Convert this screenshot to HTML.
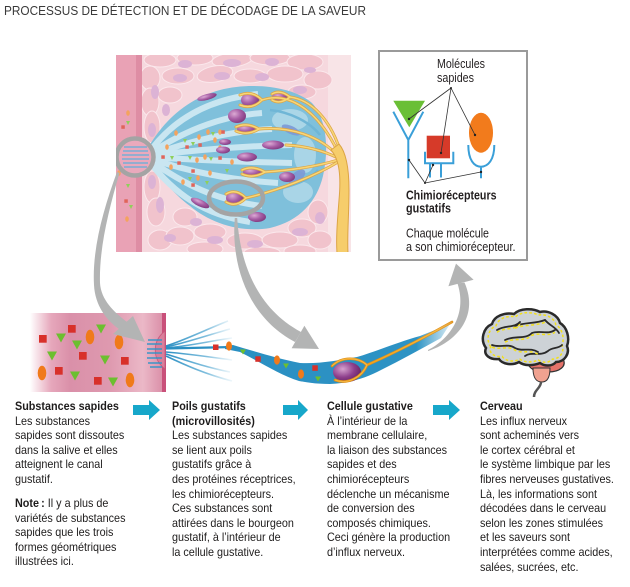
<!DOCTYPE html>
<html><head><meta charset="utf-8">
<style>
html,body{margin:0;padding:0;background:#fff;}
body{width:630px;height:587px;position:relative;overflow:hidden;font-family:"Liberation Sans",Arial,sans-serif;}
svg{position:absolute;left:0;top:0;}
.col{position:absolute;top:399px;font-size:12px;line-height:14.6px;color:#1e1c1c;transform:scaleX(0.9);transform-origin:0 0;white-space:nowrap;}
.col b{font-weight:bold;}
.col p{margin:0;}
.col p+p{margin-top:9.4px;}
</style></head><body>
<svg width="630" height="587" viewBox="0 0 630 587" xmlns="http://www.w3.org/2000/svg">
<defs>
<clipPath id="tc"><rect x="116" y="55" width="235" height="197"/></clipPath>
<radialGradient id="pu" cx="0.35" cy="0.35" r="0.75"><stop offset="0" stop-color="#dcaad4"/><stop offset="0.5" stop-color="#a75ea5"/><stop offset="1" stop-color="#7a3478"/></radialGradient>
<radialGradient id="pu2" cx="0.35" cy="0.35" r="0.75"><stop offset="0" stop-color="#d6a2cf"/><stop offset="0.55" stop-color="#8e3f8c"/><stop offset="1" stop-color="#5e1f5c"/></radialGradient>
<linearGradient id="pk" x1="30" x2="163" y1="0" y2="0" gradientUnits="userSpaceOnUse">
<stop offset="0" stop-color="#ffffff"/><stop offset="0.16" stop-color="#e6a7bb"/><stop offset="0.3" stop-color="#da90a9"/><stop offset="0.6" stop-color="#de99af"/><stop offset="0.85" stop-color="#ebb8c7"/><stop offset="1" stop-color="#da8fa8"/></linearGradient>
<linearGradient id="mv" x1="166" x2="234" y1="0" y2="0" gradientUnits="userSpaceOnUse">
<stop offset="0" stop-color="#2b8fc3"/><stop offset="0.6" stop-color="#4aa3cf" stop-opacity="0.7"/><stop offset="1" stop-color="#8cc6e2" stop-opacity="0.1"/></linearGradient>
<linearGradient id="cellg" x1="225" x2="450" y1="0" y2="0" gradientUnits="userSpaceOnUse">
<stop offset="0" stop-color="#2a8fc2"/><stop offset="0.85" stop-color="#2d93c4"/><stop offset="1" stop-color="#2d93c4" stop-opacity="0.2"/></linearGradient>
<linearGradient id="nerve" x1="367" x2="452" y1="0" y2="0" gradientUnits="userSpaceOnUse">
<stop offset="0" stop-color="#f2a21c"/><stop offset="0.8" stop-color="#f5b640"/><stop offset="1" stop-color="#f8d89a" stop-opacity="0.2"/></linearGradient>
</defs>

<text x="4" y="15.2" font-family="Liberation Sans, Arial, sans-serif" font-size="12.5" fill="#3a3a3a" textLength="362" lengthAdjust="spacingAndGlyphs">PROCESSUS DE DÉTECTION ET DE DÉCODAGE DE LA SAVEUR</text>

<g clip-path="url(#tc)">
<rect x="116" y="55" width="235" height="197" fill="#f6d8de"/>
<rect x="328" y="55" width="23" height="197" fill="#f8e4e7"/>
<g fill="#f1c3cc" stroke="#fbe8ec" stroke-width="1">
<ellipse cx="160" cy="60" rx="16" ry="7"/>
<ellipse cx="195" cy="58" rx="18" ry="7"/>
<ellipse cx="232" cy="60" rx="20" ry="7" transform="rotate(-5 232 60)"/>
<ellipse cx="270" cy="58" rx="20" ry="7"/>
<ellipse cx="305" cy="62" rx="18" ry="8"/>
<ellipse cx="150" cy="78" rx="10" ry="12"/>
<ellipse cx="178" cy="76" rx="16" ry="8"/>
<ellipse cx="215" cy="74" rx="18" ry="8" transform="rotate(-10 215 74)"/>
<ellipse cx="250" cy="76" rx="16" ry="7"/>
<ellipse cx="285" cy="74" rx="18" ry="8"/>
<ellipse cx="318" cy="80" rx="14" ry="9"/>
<ellipse cx="150" cy="102" rx="9" ry="14"/>
<ellipse cx="170" cy="95" rx="12" ry="8"/>
<ellipse cx="302" cy="92" rx="14" ry="7"/>
<ellipse cx="152" cy="127" rx="8" ry="16"/>
<ellipse cx="152" cy="187" rx="8" ry="16"/>
<ellipse cx="156" cy="212" rx="9" ry="14"/>
<ellipse cx="160" cy="240" rx="12" ry="10"/>
<ellipse cx="185" cy="217" rx="12" ry="9"/>
<ellipse cx="180" cy="236" rx="14" ry="9"/>
<ellipse cx="210" cy="232" rx="16" ry="8"/>
<ellipse cx="205" cy="249" rx="18" ry="7"/>
<ellipse cx="245" cy="241" rx="18" ry="8"/>
<ellipse cx="280" cy="240" rx="18" ry="8"/>
<ellipse cx="302" cy="228" rx="14" ry="9"/>
<ellipse cx="318" cy="212" rx="10" ry="12"/>
<ellipse cx="320" cy="240" rx="12" ry="9"/>
<ellipse cx="300" cy="251" rx="16" ry="6"/>
<ellipse cx="262" cy="252" rx="18" ry="5"/>
</g>
<g fill="#dcb3d5">
<ellipse cx="185" cy="64" rx="7" ry="4"/>
<ellipse cx="232" cy="63" rx="9" ry="4"/>
<ellipse cx="272" cy="62" rx="7" ry="4"/>
<ellipse cx="180" cy="78" rx="7" ry="4"/>
<ellipse cx="222" cy="76" rx="8" ry="4"/>
<ellipse cx="262" cy="77" rx="7" ry="4"/>
<ellipse cx="155" cy="92" rx="4" ry="7"/>
<ellipse cx="152" cy="130" rx="4" ry="7"/>
<ellipse cx="152" cy="182" rx="4" ry="7"/>
<ellipse cx="160" cy="205" rx="4" ry="8"/>
<ellipse cx="300" cy="90" rx="7" ry="4"/>
<ellipse cx="196" cy="222" rx="6" ry="4"/>
<ellipse cx="215" cy="240" rx="8" ry="4"/>
<ellipse cx="255" cy="244" rx="8" ry="4"/>
<ellipse cx="300" cy="232" rx="8" ry="4"/>
<ellipse cx="320" cy="218" rx="5" ry="6"/>
<ellipse cx="170" cy="238" rx="6" ry="4"/>
<ellipse cx="166" cy="110" rx="4" ry="6"/>
<ellipse cx="310" cy="70" rx="6" ry="3"/>
</g>
<rect x="116" y="55" width="20" height="197" fill="#e9a2b5"/>
<rect x="136" y="55" width="6" height="197" fill="#de8da4"/>
<g fill="#f4a35e"><ellipse cx="128" cy="113" rx="1.8" ry="2.8"/><ellipse cx="119" cy="173" rx="1.8" ry="2.8"/><ellipse cx="127" cy="219" rx="1.8" ry="2.8"/></g>
<g fill="#8fcf5a"><path d="M126,121 L130,121 L128,125Z"/><path d="M126,184 L130,184 L128,188Z"/><path d="M129,205 L133,205 L131,209Z"/></g>
<g fill="#e0645a"><rect x="121.3" y="125.3" width="3.5" height="3.5"/><rect x="124.3" y="199.3" width="3.5" height="3.5"/></g>

<path d="M146,152 C160,124 186,99 220,90 C252,82 292,86 312,103 C327,119 329,150 323,176 C317,201 300,221 270,228 C240,233 210,223 190,206 C172,193 157,172 146,160 Z" fill="#7fc0db"/>
<g fill="none" stroke="#c9e6f1" stroke-width="6">
<path d="M148,154 C172,120 208,99 258,94"/>
<path d="M148,155 C183,131 220,116 262,113"/>
<path d="M148,156 C190,141 230,131 272,129"/>
<path d="M148,156 C195,150 240,146 292,145"/>
<path d="M148,157 C195,160 240,162 292,163"/>
<path d="M148,158 C190,172 230,180 278,183"/>
<path d="M148,159 C185,185 215,200 262,206"/>
<path d="M148,160 C175,195 205,215 250,222"/>
</g>
<g fill="#c6e4ef" opacity="0.6">
<ellipse cx="290" cy="120" rx="18" ry="11"/>
<ellipse cx="298" cy="192" rx="15" ry="11"/>
<ellipse cx="305" cy="155" rx="11" ry="18"/>
</g>
<g fill="none" stroke="#6fb6d6" stroke-width="2.5">
<path d="M270,110 C290,112 310,122 320,135"/>
<path d="M275,190 C295,185 310,180 318,170"/>
</g>
<g fill="#7d9ad6" opacity="0.9">
<ellipse cx="291" cy="130" rx="10" ry="4" transform="rotate(25 291 130)"/>
<ellipse cx="297" cy="177" rx="10" ry="5" transform="rotate(-40 297 177)"/>
</g>
<g fill="#f4a35e">
<ellipse cx="176" cy="133" rx="1.8" ry="2.8"/><ellipse cx="199" cy="137" rx="1.8" ry="2.8"/><ellipse cx="208" cy="132" rx="1.8" ry="2.8"/><ellipse cx="215" cy="140" rx="1.8" ry="2.8"/><ellipse cx="220" cy="132" rx="1.8" ry="2.8"/><ellipse cx="167" cy="147" rx="1.8" ry="2.8"/><ellipse cx="197" cy="160" rx="1.8" ry="2.8"/><ellipse cx="205" cy="157" rx="1.8" ry="2.8"/><ellipse cx="210" cy="173" rx="1.8" ry="2.8"/><ellipse cx="171" cy="167" rx="1.8" ry="2.8"/><ellipse cx="183" cy="182" rx="1.8" ry="2.8"/><ellipse cx="198" cy="178" rx="1.8" ry="2.8"/><ellipse cx="220" cy="148" rx="1.8" ry="2.8"/><ellipse cx="232" cy="162" rx="1.8" ry="2.8"/>
</g>
<g fill="#8fcf5a">
<path d="M183,139h4l-2,4z"/><path d="M191,142h4l-2,4z"/><path d="M211,132h4l-2,4z"/><path d="M148,155h4l-2,4z"/><path d="M170,156h4l-2,4z"/><path d="M188,156h4l-2,4z"/><path d="M209,157h4l-2,4z"/><path d="M188,177h4l-2,4z"/><path d="M205,181h4l-2,4z"/><path d="M225,169h4l-2,4z"/>
</g>
<g fill="#e0645a">
<rect x="185.3" y="145.3" width="3.5" height="3.5"/><rect x="198.3" y="143.3" width="3.5" height="3.5"/><rect x="221.3" y="130.3" width="3.5" height="3.5"/><rect x="177.3" y="161.3" width="3.5" height="3.5"/><rect x="191.3" y="169.3" width="3.5" height="3.5"/><rect x="218.3" y="156.3" width="3.5" height="3.5"/><rect x="191.3" y="183.3" width="3.5" height="3.5"/><rect x="161.3" y="155.3" width="3.5" height="3.5"/>
</g>
<g fill="url(#pu)">
<ellipse cx="250" cy="100" rx="9" ry="7"/>
<ellipse cx="237" cy="116" rx="9" ry="7"/>
<ellipse cx="247" cy="129" rx="10" ry="4.5"/>
<ellipse cx="273" cy="145" rx="11" ry="4.5"/>
<ellipse cx="225" cy="142" rx="6" ry="3"/>
<ellipse cx="247" cy="157" rx="10" ry="4.5"/>
<ellipse cx="223" cy="150" rx="7" ry="3.5"/>
<ellipse cx="253" cy="172" rx="10" ry="4.5"/>
<ellipse cx="235" cy="198" rx="9" ry="7"/>
<ellipse cx="257" cy="217" rx="9" ry="5"/>
<ellipse cx="200" cy="203" rx="10" ry="3.5" transform="rotate(25 200 203)"/>
<ellipse cx="287" cy="177" rx="8" ry="5"/>
<ellipse cx="207" cy="97" rx="10" ry="3" transform="rotate(-15 207 97)"/>
<ellipse cx="280" cy="97" rx="8" ry="5"/>
</g>
<g fill="none" stroke-linecap="round">
<g stroke="#dca545" stroke-width="3">
<path d="M262,100 C285,92 315,105 338,152"/>
<path d="M259,129 C290,126 320,136 338,156"/>
<path d="M286,145 C305,146 322,150 338,158"/>
<path d="M265,172 C295,170 318,166 338,160"/>
<path d="M246,198 C280,190 315,176 338,162"/>
<path d="M290,97 C312,100 330,120 340,150"/>
<path d="M262,100 Q252,90 240,95 M262,100 Q252,110 240,105"/>
<path d="M259,129 Q247,122 236,127 M259,129 Q247,136 236,131"/>
<path d="M265,172 Q253,165 242,170 M265,172 Q253,179 242,174"/>
<path d="M246,198 Q236,188 226,194 M246,198 Q236,208 226,202"/>
<path d="M290,97 Q280,89 272,94 M290,97 Q280,105 272,100"/>
</g>
<g stroke="#f8d677" stroke-width="1.5">
<path d="M262,100 C285,92 315,105 338,152"/>
<path d="M259,129 C290,126 320,136 338,156"/>
<path d="M286,145 C305,146 322,150 338,158"/>
<path d="M265,172 C295,170 318,166 338,160"/>
<path d="M246,198 C280,190 315,176 338,162"/>
<path d="M290,97 C312,100 330,120 340,150"/>
<path d="M262,100 Q252,90 240,95 M262,100 Q252,110 240,105"/>
<path d="M259,129 Q247,122 236,127 M259,129 Q247,136 236,131"/>
<path d="M265,172 Q253,165 242,170 M265,172 Q253,179 242,174"/>
<path d="M246,198 Q236,188 226,194 M246,198 Q236,208 226,202"/>
<path d="M290,97 Q280,89 272,94 M290,97 Q280,105 272,100"/>
</g>
</g>
<path d="M331,150 C340,160 341,178 339,200 C337,225 336,240 337,253 L348,253 C347,235 349,215 349,190 C349,168 346,152 339,144 Z" fill="#f6cd6b" stroke="#dca545" stroke-width="1"/>
<circle cx="135" cy="157" r="17" fill="#eaa9bc"/>
<g stroke="#5fb0da" stroke-width="1.2">
<line x1="124" y1="147" x2="147" y2="147"/><line x1="123" y1="151" x2="148" y2="151"/><line x1="122" y1="155" x2="149" y2="155"/><line x1="122" y1="159" x2="149" y2="159"/><line x1="123" y1="163" x2="148" y2="163"/><line x1="124" y1="167" x2="147" y2="167"/>
</g>
<circle cx="135" cy="157" r="18.5" fill="none" stroke="#a4a4a4" stroke-width="4.5"/>
<ellipse cx="236" cy="198" rx="27" ry="16.5" fill="none" stroke="#a4a4a4" stroke-width="4.5"/>
</g>

<rect x="379" y="51" width="148" height="209" fill="#fff" stroke="#9a9a9a" stroke-width="2"/>
<g font-family="Liberation Sans, Arial, sans-serif" font-size="12.5" fill="#231f20">
<text x="437" y="68" textLength="48" lengthAdjust="spacingAndGlyphs">Molécules</text>
<text x="437" y="82" textLength="37" lengthAdjust="spacingAndGlyphs">sapides</text>
<text x="406" y="199.5" font-weight="bold" textLength="90.5" lengthAdjust="spacingAndGlyphs">Chimiorécepteurs</text>
<text x="406" y="212.5" font-weight="bold" textLength="45" lengthAdjust="spacingAndGlyphs">gustatifs</text>
<text x="406" y="237.5" textLength="83" lengthAdjust="spacingAndGlyphs">Chaque molécule</text>
<text x="406" y="251" textLength="109.5" lengthAdjust="spacingAndGlyphs">a son chimiorécepteur.</text>
</g>
<polygon points="393.3,100.7 425,100.7 409.3,127.3" fill="#6abf36"/>
<rect x="426.7" y="135.7" width="23.3" height="22.6" fill="#d63a29"/>
<ellipse cx="481" cy="132.7" rx="12" ry="20" fill="#f27b1c"/>
<g fill="none" stroke="#3a9fd8" stroke-width="2">
<path d="M393.3,111.7 L408.3,140 L423.3,111.7 M408.3,140 L408.3,178.3"/>
<path d="M425,151.7 L425,163.3 L453.3,163.3 L453.3,151.7 M430,163.3 L430,177.5 M441,163.3 L441,177.5"/>
<path d="M468.3,145 C468.3,160 474,166.7 481,166.7 C488,166.7 494.3,160 494.3,145 M481,166.7 L481,178.3"/>
</g>
<g stroke="#333" stroke-width="0.8" fill="none">
<path d="M451,88 L409,119 M451,88 L441,153 M451,88 L475,135"/>
<path d="M425,183 L409,160 M425,183 L433,165 M425,183 L481,172"/>
</g>
<g fill="#222"><circle cx="409" cy="119" r="1.2"/><circle cx="441" cy="153" r="1.2"/><circle cx="475" cy="135" r="1.2"/><circle cx="409" cy="160" r="1.2"/><circle cx="433" cy="165" r="1.2"/><circle cx="481" cy="172" r="1.2"/><circle cx="451" cy="88" r="1"/><circle cx="425" cy="183" r="1"/></g>

<rect x="30" y="313" width="133" height="79" fill="url(#pk)"/>
<rect x="162" y="313" width="4" height="79" fill="#c9507a"/>
<path d="M165,331 C152,341 152,359 165,369 Z" fill="#d97f9b" stroke="#c9577c" stroke-width="0.8"/>
<g stroke="#2f95c8" stroke-width="1.4">
<line x1="148" y1="340" x2="162" y2="340"/><line x1="147" y1="344" x2="162" y2="344"/><line x1="147" y1="349" x2="162" y2="349"/><line x1="147" y1="353" x2="162" y2="353"/><line x1="147" y1="358" x2="162" y2="358"/><line x1="148" y1="363" x2="162" y2="363"/><line x1="150" y1="367" x2="162" y2="367"/>
</g>
<g fill="none" stroke="url(#mv)" stroke-width="1.6">
<path d="M166,346 C185,340 205,330 228,321"/>
<path d="M166,347 C185,343 205,336 230,329"/>
<path d="M166,348 C190,346 210,341 232,338"/>
<path d="M166,352 C190,354 210,357 232,360"/>
<path d="M166,354 C185,360 205,367 230,372"/>
<path d="M166,356 C185,365 205,374 232,381"/>
</g>
<path d="M166,348.5 L233,347" stroke="#2a8fc2" stroke-width="2.2"/>
<g fill="#d8302a">
<rect x="39" y="335" width="7.7" height="7.7"/><rect x="68" y="325" width="7.7" height="7.7"/><rect x="79" y="352" width="7.7" height="7.7"/><rect x="55" y="367" width="7.7" height="7.7"/><rect x="121" y="357" width="7.7" height="7.7"/><rect x="94" y="377" width="7.7" height="7.7"/>
</g>
<g fill="#6cbf2f">
<path d="M56,333.5h10l-5,9z"/><path d="M96,324.5h10l-5,9z"/><path d="M72,340.5h10l-5,9z"/><path d="M47,351.5h10l-5,9z"/><path d="M100,355.5h10l-5,9z"/><path d="M70,371.5h10l-5,9z"/><path d="M108,377.5h10l-5,9z"/>
</g>
<g fill="#f07a1a">
<ellipse cx="90" cy="337" rx="4.3" ry="7.3"/><ellipse cx="119" cy="342" rx="4.3" ry="7.3"/><ellipse cx="42" cy="373" rx="4.3" ry="7.3"/><ellipse cx="130" cy="380" rx="4.3" ry="7.3"/>
</g>
<path d="M225,346 L233,345 C250,350 275,358 300,363 C320,364 340,360 357,357 C375,352 395,343 420,336 L450,324 L441,338 C421,349 401,360 381,370 C366,378 350,383 330,384 C315,384 305,382 299,381 C280,375 260,362 240,352 L225,349 Z" fill="url(#cellg)"/>
<ellipse cx="347" cy="372" rx="14" ry="10" fill="url(#pu2)"/>
<g fill="none" stroke="#e08f15" stroke-width="2.6" stroke-linecap="round">
<path d="M452,322 C420,340 392,354 367,365"/>
<path d="M367,365 C358,357 342,356 332,366"/>
<path d="M367,365 C362,377 348,385 335,380"/>
</g>
<g fill="none" stroke="url(#nerve)" stroke-width="1.4" stroke-linecap="round">
<path d="M452,322 C420,340 392,354 367,365"/>
</g>
<g fill="none" stroke="#f5b640" stroke-width="1.2"><path d="M367,365 C358,357 342,356 332,366"/><path d="M367,365 C362,377 348,385 335,380"/></g>
<g fill="#d8302a"><rect x="213" y="344.5" width="5.5" height="5.5"/><rect x="255.3" y="356.3" width="5.5" height="5.5"/><rect x="312.3" y="365.3" width="5.5" height="5.5"/></g>
<g fill="#f07a1a"><ellipse cx="229" cy="346" rx="3" ry="4.6"/><ellipse cx="277" cy="360" rx="3" ry="4.6"/><ellipse cx="301" cy="374" rx="3" ry="4.6"/></g>
<g fill="#6cbf2f"><path d="M240,349.5h6l-3,5z"/><path d="M283,363.5h6l-3,5z"/><path d="M315,376.5h6l-3,5z"/></g>

<g fill="#b3b4b4">
<path d="M117,172 C103,210 92,250 94,285 C95,305 106,320 119,329 L127,322 C114,312 101,300 100,283 C99,250 108,212 119.5,173 Z"/>
<path d="M113,334 L133,316 L145,342 Z"/>
<path d="M234.8,218 C231,262 246,316 295,342 L301,332 C256,308 240,262 237.2,218 Z"/>
<path d="M291.6,348.3 L304.4,325.7 L319,349 Z"/>
<path d="M428,351 C454,343 480,318 464.5,282.5 L457.5,283.5 C468,316 448,340 428,350 Z"/>
<path d="M473.6,279.8 L448.4,286.3 L456,263.6 Z"/>
</g>

<path d="M527,360 C530,355 556,355 563,359 C567,366 560,372 548,372 C538,373 528,370 527,360 Z" fill="#e4726a" stroke="#333" stroke-width="1.2"/>
<path d="M533,368 C533,378 536,382 542,382 C548,382 550,376 550,368 Z" fill="#f0a290" stroke="#333" stroke-width="1"/>
<path d="M541,382 C541,388 534,390 534,397" fill="none" stroke="#555" stroke-width="2.5"/>
<path d="M486,348 C480,340 483,328 492,324 C494,316 505,312 514,314 C520,308 533,308 540,312 C548,310 558,315 560,323 C567,327 570,338 567,346 C570,353 565,362 556,362 C552,367 544,366 540,363 C533,366 524,366 519,362 C512,366 502,364 499,359 C490,360 483,355 486,348 Z" fill="#cdd2d6" stroke="#2a2a2a" stroke-width="2.5"/>
<path d="M486,348 C480,340 483,328 492,324 C494,316 505,312 514,314 C520,308 533,308 540,312 C548,310 558,315 560,323 C567,327 570,338 567,346 C570,353 565,362 556,362 C552,367 544,366 540,363 C533,366 524,366 519,362 C512,366 502,364 499,359 C490,360 483,355 486,348 Z" fill="none" stroke="#f2df1a" stroke-width="1.7" stroke-dasharray="3 2.5" transform="translate(526 338) scale(0.88) translate(-526 -338)"/>
<g fill="none" stroke="#2a2a2a" stroke-width="1.8" stroke-linecap="round">
<path d="M497,330 C505,325 515,328 520,322"/>
<path d="M515,326 C525,322 535,324 545,320"/>
<path d="M505,340 C515,335 525,340 532,333 C540,330 548,335 555,330"/>
<path d="M492,345 C500,348 508,343 515,348 C522,352 530,347 538,352"/>
<path d="M525,356 C532,351 540,357 548,351 C552,347 558,349 562,345"/>
<path d="M545,320 C550,326 556,327 559,333"/>
</g>
<g fill="none" stroke="#f2df1a" stroke-width="1.5" stroke-dasharray="3 2.5" transform="translate(0 2.2)">
<path d="M497,330 C505,325 515,328 520,322"/>
<path d="M515,326 C525,322 535,324 545,320"/>
<path d="M505,340 C515,335 525,340 532,333 C540,330 548,335 555,330"/>
<path d="M492,345 C500,348 508,343 515,348 C522,352 530,347 538,352"/>
</g>

<g fill="#17a7ca">
<path d="M133,405 L149,405 L149,400 L160,410 L149,420 L149,415 L133,415 Z"/>
<path d="M283,405 L298,405 L298,400 L308,410 L298,420 L298,415 L283,415 Z"/>
<path d="M433,405 L449,405 L449,400 L460,410 L449,420 L449,415 L433,415 Z"/>
</g>
</svg>

<div class="col" style="left:15px;">
<p><b>Substances sapides</b><br>Les substances<br>sapides sont dissoutes<br>dans la salive et elles<br>atteignent le canal<br>gustatif.</p>
<p><b>Note&#8239;:</b> Il y a plus de<br>variétés de substances<br>sapides que les trois<br>formes géométriques<br>illustrées ici.</p>
</div>
<div class="col" style="left:171.7px;">
<b>Poils gustatifs</b><br><b>(microvillosités)</b><br>Les substances sapides<br>se lient aux poils<br>gustatifs grâce à<br>des protéines réceptrices,<br>les chimiorécepteurs.<br>Ces substances sont<br>attirées dans le bourgeon<br>gustatif, à l’intérieur de<br>la cellule gustative.
</div>
<div class="col" style="left:326.7px;">
<b>Cellule gustative</b><br>À l’intérieur de la<br>membrane cellulaire,<br>la liaison des substances<br>sapides et des<br>chimiorécepteurs<br>déclenche un mécanisme<br>de conversion des<br>composés chimiques.<br>Ceci génère la production<br>d’influx nerveux.
</div>
<div class="col" style="left:480px;">
<b>Cerveau</b><br>Les influx nerveux<br>sont acheminés vers<br>le cortex cérébral et<br>le système limbique par les<br>fibres nerveuses gustatives.<br>Là, les informations sont<br>décodées dans le cerveau<br>selon les zones stimulées<br>et les saveurs sont<br>interprétées comme acides,<br>salées, sucrées, etc.
</div>
</body></html>
